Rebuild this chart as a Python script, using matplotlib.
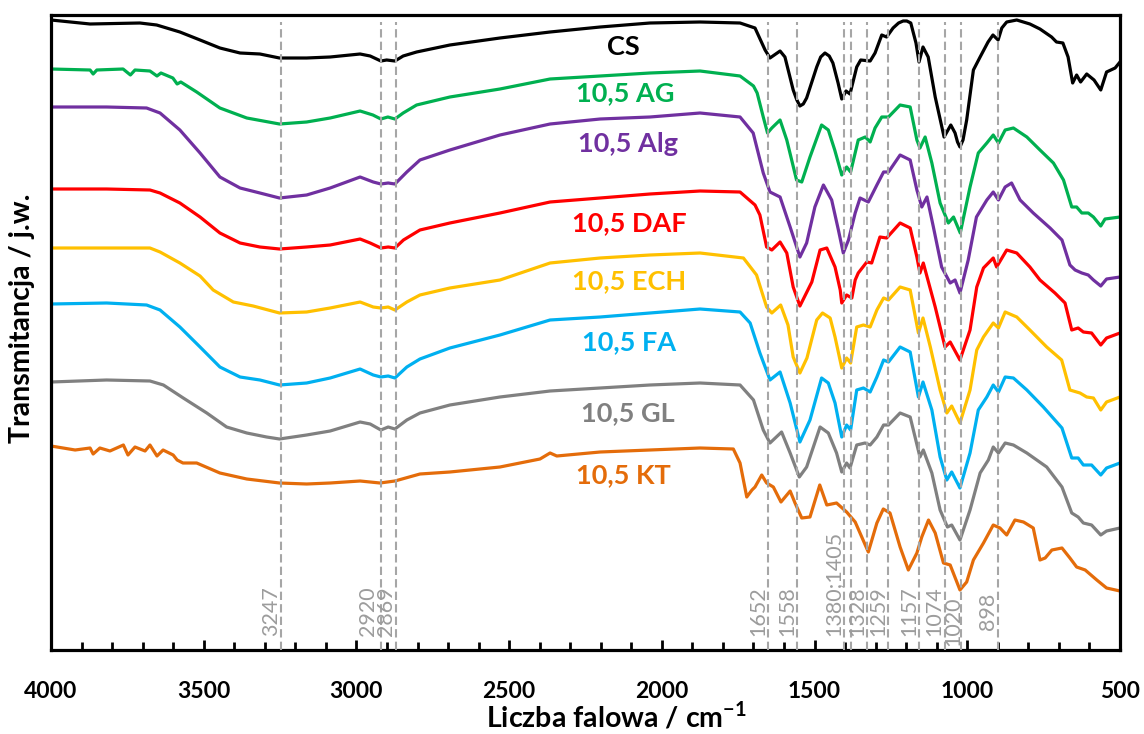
import matplotlib
matplotlib.use("Agg")
import matplotlib.pyplot as plt
from matplotlib.ticker import MultipleLocator

plt.rcParams['font.family'] = ['Lato', 'DejaVu Sans']
plt.rcParams['mathtext.fontset'] = 'custom'
plt.rcParams['mathtext.bf'] = 'Lato:bold'
plt.rcParams['mathtext.rm'] = 'Lato:bold'

# ---- FTIR spectra (wavenumber in cm^-1, transmittance in arbitrary offset units) ----
cs_wn = [4000, 3872, 3709, 3654, 3578, 3512, 3447, 3381, 3316, 3252, 3163, 3086, 2988, 2955, 2920, 2901,
         2874, 2847, 2803, 2694, 2530, 2366, 2202, 2039, 1875, 1744, 1695, 1662, 1646, 1613, 1597, 1570,
         1558, 1548, 1537, 1526, 1493, 1480, 1466, 1452, 1440, 1423, 1411, 1397, 1384, 1362, 1349, 1318,
         1302, 1280, 1264, 1243, 1225, 1210, 1198, 1185, 1168, 1158, 1145, 1128, 1105, 1076, 1054, 1040,
         1032, 1024, 1014, 1002, 980, 958, 932, 916, 899, 887, 871, 838, 795, 762, 724, 708, 687, 670,
         655, 642, 629, 609, 585, 563, 544, 516, 500]
cs_t = [630, 626, 627, 625, 618, 610, 602, 597, 596, 592, 592, 593, 596, 594, 589, 590,
        589, 594, 598, 605, 612, 618, 623, 627, 628, 627, 622, 600, 592, 599, 593, 560,
        550, 544, 546, 552, 583, 593, 597, 594, 587, 567, 551, 559, 556, 583, 590, 589,
        597, 615, 613, 622, 627, 629, 629, 627, 607, 588, 603, 593, 553, 513, 525, 517,
        508, 503, 510, 530, 580, 593, 608, 615, 610, 622, 628, 630, 626, 621, 613, 608, 607, 593,
        567, 575, 568, 576, 570, 560, 578, 582, 588]

ag_wn = [4000, 3872, 3862, 3850, 3764, 3740, 3725, 3676, 3653, 3640, 3601, 3587, 3575, 3523, 3447, 3359,
         3252, 3163, 3086, 2988, 2946, 2920, 2897, 2874, 2847, 2803, 2694, 2530, 2366, 2202, 2039, 1875,
         1744, 1700, 1688, 1668, 1654, 1640, 1613, 1591, 1559, 1542, 1515, 1477, 1455, 1434, 1411, 1395,
         1382, 1357, 1334, 1318, 1302, 1280, 1258, 1220, 1187, 1165, 1155, 1138, 1116, 1089, 1062, 1045,
         1023, 991, 964, 936, 915, 898, 876, 849, 805, 762, 718, 685, 658, 642, 625, 604, 587, 563, 549, 500]
ag_t = [581, 580, 576, 580, 581, 575, 580, 579, 574, 577, 572, 566, 568, 558, 542, 532,
        526, 528, 532, 539, 535, 531, 533, 531, 537, 545, 553, 561, 571, 574, 577, 579,
        574, 564, 557, 533, 517, 522, 530, 510, 470, 468, 493, 525, 520, 500, 475, 483,
        478, 510, 513, 508, 522, 533, 533, 545, 543, 510, 502, 513, 487, 447, 427, 433,
        417, 463, 497, 507, 515, 507, 520, 522, 513, 500, 487, 470, 443, 443, 437, 437, 433, 424, 431, 433]

alg_wn = [4000, 3818, 3687, 3643, 3578, 3512, 3447, 3381, 3316, 3252, 3163, 3086, 2988, 2945, 2920, 2896,
          2874, 2835, 2792, 2694, 2530, 2366, 2202, 2039, 1875, 1744, 1701, 1668, 1646, 1613, 1580, 1548,
          1526, 1499, 1471, 1444, 1422, 1406, 1389, 1367, 1351, 1324, 1296, 1274, 1258, 1220, 1187, 1165,
          1149, 1132, 1111, 1084, 1056, 1040, 1024, 997, 970, 936, 915, 898, 876, 855, 827, 784, 729, 690,
          664, 647, 625, 604, 587, 563, 544, 500]
alg_t = [543, 543, 542, 537, 520, 497, 473, 462, 457, 452, 455, 462, 473, 468, 466, 467,
         466, 478, 490, 500, 515, 526, 531, 533, 537, 533, 517, 477, 458, 453, 423, 393,
         407, 443, 465, 450, 420, 397, 410, 437, 452, 448, 465, 478, 478, 495, 490, 460,
         443, 453, 423, 383, 367, 370, 357, 390, 433, 450, 458, 450, 463, 467, 450, 437, 422, 410,
         385, 380, 377, 375, 370, 364, 371, 373]

daf_wn = [4000, 3818, 3676, 3643, 3578, 3512, 3447, 3381, 3316, 3252, 3163, 3086, 2988, 2955, 2920, 2896,
          2874, 2846, 2792, 2694, 2530, 2366, 2202, 2039, 1875, 1744, 1695, 1679, 1657, 1640, 1613, 1591,
          1570, 1548, 1509, 1482, 1460, 1433, 1416, 1411, 1395, 1378, 1367, 1357, 1329, 1313, 1286, 1264,
          1220, 1187, 1165, 1155, 1144, 1105, 1073, 1056, 1024, 991, 969, 947, 915, 904, 871, 838, 795,
          762, 713, 680, 658, 637, 620, 593, 563, 544, 500]
daf_t = [461, 461, 460, 457, 447, 433, 417, 407, 403, 401, 403, 405, 411, 407, 402, 403,
         402, 410, 420, 427, 437, 448, 452, 456, 459, 458, 445, 435, 403, 400, 408, 397,
         363, 344, 368, 400, 402, 383, 360, 347, 355, 352, 370, 377, 388, 387, 413, 412,
         427, 422, 393, 377, 387, 343, 303, 308, 290, 320, 363, 382, 392, 383, 400, 397, 383,
         370, 357, 347, 320, 322, 318, 317, 305, 312, 317]

ech_wn = [4000, 3818, 3676, 3643, 3578, 3512, 3469, 3403, 3338, 3252, 3163, 3086, 2988, 2945, 2920, 2896,
          2874, 2835, 2792, 2694, 2530, 2366, 2202, 2039, 1875, 1733, 1690, 1657, 1640, 1611, 1587, 1570,
          1548, 1525, 1493, 1474, 1449, 1433, 1411, 1395, 1382, 1362, 1340, 1318, 1296, 1274, 1258, 1220,
          1187, 1160, 1145, 1121, 1089, 1067, 1051, 1024, 991, 969, 947, 915, 898, 876, 838, 795, 740,
          691, 664, 631, 609, 587, 563, 544, 500]
ech_t = [402, 402, 402, 398, 387, 374, 360, 348, 344, 337, 338, 342, 348, 343, 342, 343,
         340, 348, 355, 362, 370, 387, 392, 395, 397, 392, 375, 343, 337, 345, 325, 293,
         277, 292, 330, 337, 332, 313, 282, 292, 287, 323, 325, 323, 340, 352, 350, 363,
         360, 317, 332, 303, 260, 237, 244, 227, 260, 300, 313, 327, 322, 338, 333, 320, 303,
         290, 260, 257, 253, 252, 240, 248, 253]

fa_wn = [4000, 3818, 3687, 3643, 3578, 3512, 3447, 3381, 3316, 3252, 3163, 3086, 2988, 2945, 2920, 2896,
         2874, 2835, 2792, 2694, 2530, 2366, 2202, 2039, 1875, 1744, 1711, 1679, 1646, 1613, 1580, 1548,
         1515, 1477, 1455, 1433, 1411, 1395, 1382, 1362, 1340, 1318, 1296, 1274, 1258, 1220, 1187, 1160,
         1145, 1116, 1089, 1067, 1051, 1024, 991, 964, 936, 915, 898, 876, 849, 805, 751, 690, 658, 637,
         620, 593, 563, 544, 500]
fa_t = [346, 347, 345, 340, 323, 303, 283, 273, 270, 265, 267, 272, 281, 275, 273, 274,
        272, 283, 291, 302, 315, 330, 333, 337, 341, 338, 327, 297, 270, 278, 247, 208,
        230, 272, 267, 247, 213, 225, 220, 260, 262, 258, 273, 290, 288, 303, 298, 253,
        268, 240, 193, 170, 178, 162, 197, 240, 253, 265, 258, 273, 272, 260, 243, 222, 192, 192,
        185, 185, 175, 182, 187]

gl_wn = [4000, 3818, 3676, 3632, 3567, 3490, 3425, 3359, 3294, 3252, 3163, 3086, 2988, 2955, 2920, 2896,
         2874, 2835, 2792, 2694, 2530, 2366, 2202, 2039, 1875, 1744, 1700, 1668, 1646, 1608, 1580, 1550,
         1526, 1482, 1455, 1428, 1411, 1395, 1384, 1362, 1335, 1318, 1296, 1274, 1258, 1220, 1187, 1155,
         1144, 1116, 1089, 1065, 1051, 1024, 991, 958, 931, 915, 898, 876, 849, 805, 740, 690, 658, 637,
         620, 593, 563, 544, 500]
gl_t = [268, 270, 269, 265, 252, 237, 223, 217, 213, 211, 215, 219, 228, 226, 220, 223,
        221, 230, 237, 245, 253, 259, 262, 265, 267, 265, 250, 220, 207, 218, 197, 173,
        183, 223, 217, 197, 178, 187, 182, 205, 207, 205, 213, 225, 225, 237, 233, 193,
        200, 177, 140, 123, 125, 110, 140, 177, 190, 203, 197, 207, 205, 197, 183, 163, 137, 133,
        127, 125, 115, 119, 122]

kt_wn = [4000, 3921, 3872, 3862, 3840, 3807, 3763, 3748, 3725, 3692, 3676, 3653, 3633, 3600, 3587, 3568,
         3523, 3447, 3359, 3252, 3163, 3086, 2988, 2923, 2874, 2792, 2694, 2530, 2399, 2366, 2344, 2202,
         2039, 1875, 1766, 1744, 1722, 1705, 1695, 1673, 1657, 1635, 1610, 1580, 1564, 1542, 1515, 1483,
         1460, 1428, 1395, 1367, 1324, 1296, 1275, 1253, 1220, 1193, 1165, 1149, 1127, 1105, 1078, 1056,
         1024, 1002, 980, 947, 915, 893, 871, 844, 816, 784, 762, 745, 723, 690, 664, 642, 614, 576, 544, 500]
kt_t = [204, 200, 202, 196, 202, 199, 205, 195, 203, 199, 205, 194, 200, 195, 190, 187,
        187, 177, 171, 167, 166, 167, 169, 167, 169, 176, 178, 183, 191, 197, 194, 198,
        200, 202, 201, 187, 153, 160, 163, 175, 167, 163, 148, 159, 147, 132, 133, 165,
        145, 147, 138, 128, 98, 127, 141, 137, 103, 80, 97, 113, 130, 117, 87, 85,
        60, 68, 90, 107, 125, 122, 115, 130, 128, 122, 90, 92, 100, 102, 92, 83, 80, 70, 62, 59]

series_names = ["CS", "10,5 AG", "10,5 Alg", "10,5 DAF", "10,5 ECH", "10,5 FA", "10,5 GL", "10,5 KT"]
series_wn = [cs_wn, ag_wn, alg_wn, daf_wn, ech_wn, fa_wn, gl_wn, kt_wn]
series_t = [cs_t, ag_t, alg_t, daf_t, ech_t, fa_t, gl_t, kt_t]
series_colors = ["#000000", "#00B050", "#7030A0", "#FF0000", "#FFC000", "#00B0F0", "#808080", "#E46C0A"]

# label anchor for each spectrum name (wavenumber, baseline level)
name_wn = [2127, 2121, 2111, 2107, 2107, 2107, 2111, 2127]
name_t = [595, 549, 498, 419, 361, 300, 229, 167]

# characteristic bands
band_wn = [3247, 2920, 2869, 1652, 1558, 1405, 1380, 1328, 1259, 1157, 1074, 1020, 898]
band_text = ["3247", "2920", "2869", "1652", "1558", "1380;1405", "1328", "1259", "1157", "1074", "1020", "898"]
band_text_wn = [3247, 2928, 2869, 1652, 1558, 1405, 1328, 1259, 1157, 1074, 1012, 898]
band_text_t = [39, 39, 39, 39, 39, 67, 39, 39, 39, 39, 29, 39]

fig = plt.figure(figsize=(11.44, 7.34), dpi=100)
ax = fig.add_axes([51 / 1144, 1 - 650 / 734, (1120 - 51) / 1144, (650 - 15) / 734])

for wn, t, c in zip(series_wn, series_t, series_colors):
    ax.plot(wn, t, color=c, lw=2.3, solid_joinstyle='round', zorder=2)

ax.vlines(band_wn, 0, 628, colors="#A6A6A6", linestyles=(0, (4, 2)), lw=1.5, zorder=3)

for name, x, y, c in zip(series_names, name_wn, name_t, series_colors):
    ax.text(x, y, name, color=c, fontsize=19.5, fontweight='bold', ha='center', va='baseline', zorder=4)

for txt, x, y in zip(band_text, band_text_wn, band_text_t):
    ax.text(x, y, txt, color="#9C9C9C", fontsize=15.5, rotation=90, ha='right', va='center', zorder=4)

ax.set_xlim(4000, 500)
ax.set_ylim(0, 635)
ax.xaxis.set_major_locator(MultipleLocator(500))
ax.xaxis.set_minor_locator(MultipleLocator(100))
ax.set_yticks([])
ax.tick_params(axis='x', which='major', direction='in', length=7, width=2, labelsize=16.5, pad=22)
ax.tick_params(axis='x', which='minor', direction='in', length=6, width=2)
for lab in ax.get_xticklabels():
    lab.set_fontweight('bold')
for sp in ax.spines.values():
    sp.set_linewidth(2.3)

fig.text(616 / 1144, 1 - 716 / 734, r"Liczba falowa / cm$^{\mathbf{-1}}$", fontsize=20.5, fontweight='bold',
         ha='center', va='center')
fig.text(22 / 1144, 1 - 318 / 734, "Transmitancja / j.w.", fontsize=20.5, fontweight='bold',
         rotation=90, ha='center', va='center')

fig.savefig("out.png", dpi=100)
